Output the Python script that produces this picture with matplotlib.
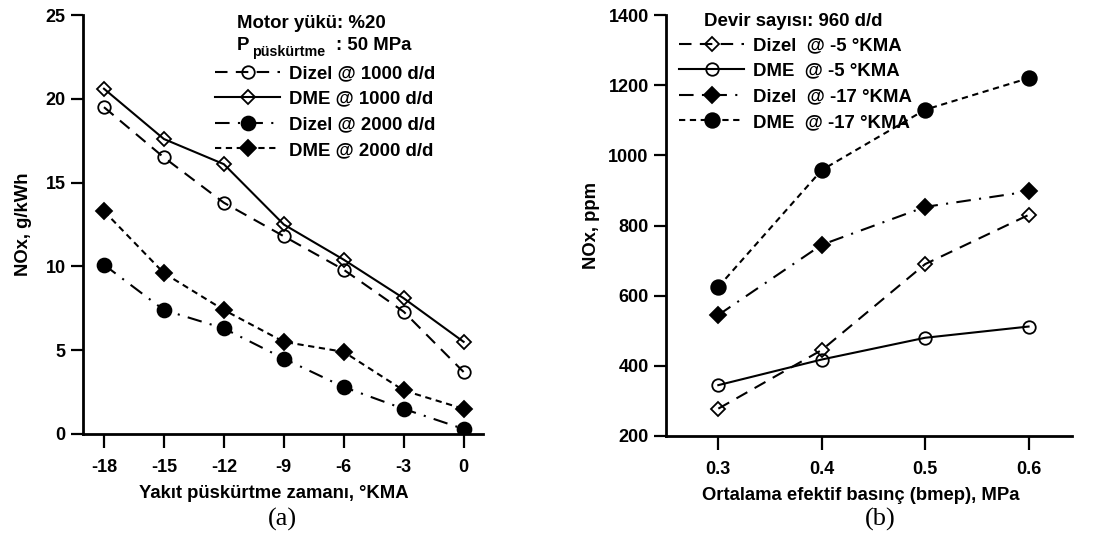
import matplotlib
matplotlib.use("Agg")
import matplotlib.pyplot as plt

plt.rcParams['font.family'] = ['Liberation Sans', 'DejaVu Sans']
plt.rcParams['font.weight'] = 'bold'
plt.rcParams['axes.unicode_minus'] = False

# (a) NOx vs injection timing
timing = [-18, -15, -12, -9, -6, -3, 0]
dizel_1000 = [19.5, 16.5, 13.8, 11.8, 9.8, 7.3, 3.7]
dme_1000 = [20.6, 17.6, 16.1, 12.5, 10.4, 8.1, 5.5]
dizel_2000 = [10.1, 7.4, 6.3, 4.5, 2.8, 1.5, 0.3]
dme_2000 = [13.3, 9.6, 7.4, 5.5, 4.9, 2.6, 1.5]
labels_a = ['Dizel @ 1000 d/d', 'DME @ 1000 d/d', 'Dizel @ 2000 d/d', 'DME @ 2000 d/d']
xticks_a = [-18, -15, -12, -9, -6, -3, 0]
yticks_a = [0, 5, 10, 15, 20, 25]

# (b) NOx vs bmep
bmep = [0.3, 0.4, 0.5, 0.6]
dizel_m5 = [278, 445, 690, 830]
dme_m5 = [345, 418, 480, 512]
dizel_m17 = [545, 745, 853, 897]
dme_m17 = [625, 958, 1130, 1220]
labels_b = ['Dizel  @ -5 °KMA', 'DME  @ -5 °KMA', 'Dizel  @ -17 °KMA', 'DME  @ -17 °KMA']
xticks_b = [0.3, 0.4, 0.5, 0.6]
xticklabels_b = ['0.3', '0.4', '0.5', '0.6']
yticks_b = [200, 400, 600, 800, 1000, 1200, 1400]

W, H = 1103, 539
fig = plt.figure(figsize=(W / 100, H / 100), dpi=100)

def frac_box(x0, y0, x1, y1):
    return [x0 / W, 1 - y1 / H, (x1 - x0) / W, (y1 - y0) / H]

def px(x, y):
    return x / W, 1 - y / H

ax1 = fig.add_axes(frac_box(83, 15, 483, 434))
ax2 = fig.add_axes(frac_box(666, 15, 1072, 436))

LW = 1.5
dash_long = (0, (6, 4))
dash_dot = (0, (7, 4, 1, 4))
dash_short = (0, (3, 2.2))

styles_a = [
    dict(ls=dash_long, marker='o', ms=9, mfc='none'),
    dict(ls='-', marker='D', ms=7.5, mfc='none'),
    dict(ls=dash_dot, marker='o', ms=10, mfc='black'),
    dict(ls=dash_short, marker='D', ms=8, mfc='black'),
]
styles_b = [
    dict(ls=dash_long, marker='D', ms=7.5, mfc='none'),
    dict(ls='-', marker='o', ms=9, mfc='none'),
    dict(ls=dash_dot, marker='D', ms=8, mfc='black'),
    dict(ls=dash_short, marker='o', ms=10.5, mfc='black'),
]

def draw(ax, xs, series, styles):
    handles = []
    for ys, st in zip(series, styles):
        ln, = ax.plot(xs, ys, color='black', lw=LW, mec='black', mew=1.3,
                      ls=st['ls'], marker=st['marker'], ms=st['ms'], mfc=st['mfc'])
        handles.append(ln)
    return handles

handles_a = draw(ax1, timing, [dizel_1000, dme_1000, dizel_2000, dme_2000], styles_a)
handles_b = draw(ax2, bmep, [dizel_m5, dme_m5, dizel_m17, dme_m17], styles_b)

ax1.set_xlim(-19.05, 0.97)
ax1.set_ylim(0, 25)
ax1.set_xticks(xticks_a)
ax1.set_yticks(yticks_a)
ax1.set_xlabel('Yakıt püskürtme zamanı, °KMA', fontsize=13.3, fontweight='bold')
ax1.set_ylabel('NOx, g/kWh', fontsize=13.3, fontweight='bold')
ax1.xaxis.set_label_coords(0.476, -0.122)
ax1.yaxis.set_label_coords(-0.128, 0.5)

ax2.set_xlim(0.2494, 0.642)
ax2.set_ylim(200, 1400)
ax2.set_xticks(xticks_b)
ax2.set_xticklabels(xticklabels_b)
ax2.set_yticks(yticks_b)
ax2.set_xlabel('Ortalama efektif basınç (bmep), MPa', fontsize=13.3, fontweight='bold')
ax2.set_ylabel('NOx, ppm', fontsize=13.3, fontweight='bold')
ax2.xaxis.set_label_coords(0.480, -0.122)
ax2.yaxis.set_label_coords(-0.162, 0.5)

for ax in (ax1, ax2):
    for s in ('top', 'right'):
        ax.spines[s].set_visible(False)
    for s in ('left', 'bottom'):
        ax.spines[s].set_linewidth(2)
    ax.tick_params(axis='y', direction='out', length=9, width=1.6, labelsize=13, pad=3.5)
    ax.tick_params(axis='x', direction='out', length=10, width=1.6, labelsize=13, pad=8)
    for lab in ax.get_xticklabels() + ax.get_yticklabels():
        lab.set_fontweight('bold')

FS = 13.4
leg_font = dict(size=FS, weight='bold')

# Legend for (a)
fig.text(*px(237, 24), 'Motor yükü: %20', fontsize=FS, fontweight='bold', va='center', ha='left')
fig.text(*px(237, 45), 'P', fontsize=FS, fontweight='bold', va='center', ha='left')
fig.text(*px(252, 52), 'püskürtme', fontsize=10.3, fontweight='bold', va='center', ha='left')
fig.text(*px(336, 45), ': 50 MPa', fontsize=FS, fontweight='bold', va='center', ha='left')
fig.legend(handles_a, labels_a, loc='upper left', bbox_to_anchor=px(215, 65),
           frameon=False, prop=leg_font, handlelength=3.5, handletextpad=0.45,
           labelspacing=0.46, borderpad=0, borderaxespad=0)

# Legend for (b)
fig.text(*px(704, 22), 'Devir sayısı: 960 d/d', fontsize=FS, fontweight='bold', va='center', ha='left')
fig.legend(handles_b, labels_b, loc='upper left', bbox_to_anchor=px(679, 37),
           frameon=False, prop=leg_font, handlelength=3.5, handletextpad=0.45,
           labelspacing=0.46, borderpad=0, borderaxespad=0)

fig.text(*px(282, 519), '(a)', fontsize=19, family=['Liberation Serif'], ha='center', va='center', fontweight='normal')
fig.text(*px(880, 519), '(b)', fontsize=19, family=['Liberation Serif'], ha='center', va='center', fontweight='normal')

fig.savefig('out.png', dpi=100)
